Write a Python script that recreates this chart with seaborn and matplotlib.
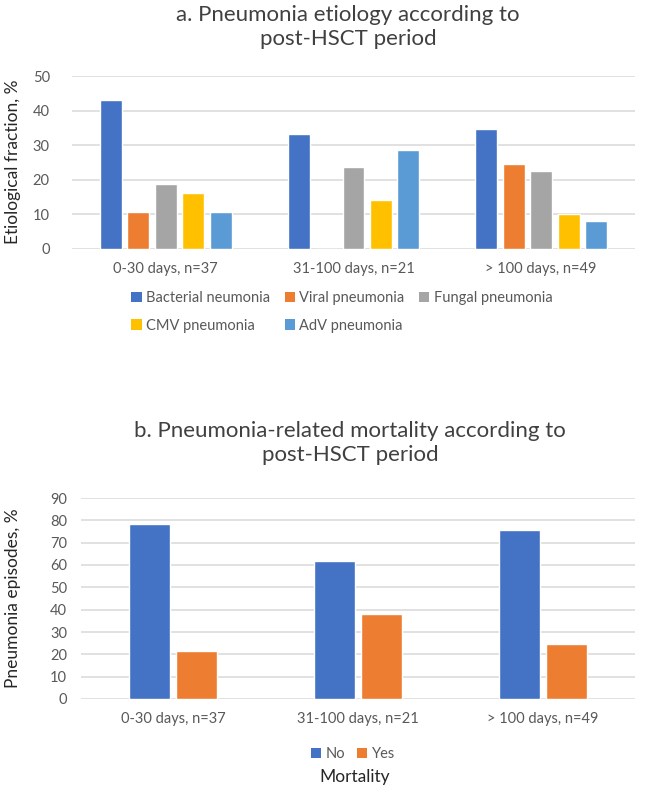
import matplotlib
matplotlib.use("Agg")
import matplotlib.pyplot as plt
import seaborn as sns
import pandas as pd
from matplotlib.patches import Patch

# ---- data ----
periods = ["0-30 days, n=37", "31-100 days, n=21", "> 100 days, n=49"]
etiologies = ["Bacterial neumonia", "Viral pneumonia", "Fungal pneumonia",
              "CMV pneumonia", "AdV pneumonia"]
bacterial = [43.2, 33.3, 34.7]
viral = [10.8, 0.0, 24.5]
fungal = [18.9, 23.8, 22.4]
cmv = [16.2, 14.3, 10.2]
adv = [10.8, 28.6, 8.2]

mortality_levels = ["No", "Yes"]
mort_no = [78.4, 61.9, 75.5]
mort_yes = [21.6, 38.1, 24.5]

colors_a = ["#4472C4", "#ED7D31", "#A5A5A5", "#FFC000", "#5B9BD5"]
colors_b = ["#4472C4", "#ED7D31"]

sns.set_theme(style="white")
plt.rcParams["font.family"] = ["Lato", "DejaVu Sans"]

df_a = pd.DataFrame({
    "period": periods * 5,
    "etiology": sum([[e] * 3 for e in etiologies], []),
    "value": bacterial + viral + fungal + cmv + adv,
})
df_b = pd.DataFrame({
    "period": periods * 2,
    "mortality": ["No"] * 3 + ["Yes"] * 3,
    "value": mort_no + mort_yes,
})

W, H = 650, 792
fig = plt.figure(figsize=(6.5, 7.92), dpi=100)

tick_col = "#595959"
grid_col = "#D9D9D9"

def style_axis(ax, ymax, step, ypad):
    ax.set_ylim(0, ymax)
    ax.set_yticks(range(0, ymax + 1, step))
    ax.yaxis.grid(True, color=grid_col, linewidth=1.1)
    ax.set_axisbelow(True)
    for s in ax.spines.values():
        s.set_visible(False)
    ax.tick_params(axis="both", length=0, labelsize=10.5, colors=tick_col)
    ax.tick_params(axis="x", pad=9)
    ax.tick_params(axis="y", pad=ypad)
    ax.set_xlabel("")
    ax.set_ylabel("")
    ax.set_xlim(-0.5, 2.5)

# ---- chart a ----
ax1 = fig.add_axes([72 / W, 1 - 249 / H, 563 / W, 173 / H])
sns.barplot(data=df_a, x="period", y="value", hue="etiology", hue_order=etiologies,
            order=periods, palette=colors_a, width=0.73, gap=0.2, ax=ax1,
            legend=False, saturation=1)
style_axis(ax1, 50, 10, 16)

fig.text(348 / W, 1 - 27 / H, "a. Pneumonia etiology according to\npost-HSCT period",
         ha="center", va="center", fontsize=16, color="#404040", linespacing=1.2)
fig.text(13 / W, 1 - 162 / H, "Etiological fraction, %", rotation=90,
         ha="center", va="center", fontsize=12.5, color="#262626")

handles_a = [Patch(facecolor=c, edgecolor="none", label=l) for c, l in zip(colors_a, etiologies)]
order = [0, 3, 1, 4, 2]
fig.legend([handles_a[i] for i in order], [etiologies[i] for i in order],
           loc="center", bbox_to_anchor=(342 / W, 1 - 312 / H), ncol=3, frameon=False,
           fontsize=10.5, handlelength=0.7, handleheight=0.7, handletextpad=0.3,
           columnspacing=1.0, labelspacing=0.9, labelcolor=tick_col)

# ---- chart b ----
ax2 = fig.add_axes([81 / W, 1 - 699 / H, 554 / W, 201 / H])
sns.barplot(data=df_b, x="period", y="value", hue="mortality", hue_order=mortality_levels,
            order=periods, palette=colors_b, width=0.51, gap=0.13, ax=ax2,
            legend=False, saturation=1)
style_axis(ax2, 90, 10, 10)

fig.text(350 / W, 1 - 443 / H,
         "b. Pneumonia-related mortality according to\npost-HSCT period",
         ha="center", va="center", fontsize=16, color="#404040", linespacing=1.2)
fig.text(13 / W, 1 - 598 / H, "Pneumonia episodes, %", rotation=90,
         ha="center", va="center", fontsize=12.5, color="#262626")

handles_b = [Patch(facecolor=c, edgecolor="none", label=l) for c, l in zip(colors_b, mortality_levels)]
fig.legend(handles_b, mortality_levels, loc="center", bbox_to_anchor=(353 / W, 1 - 754 / H),
           ncol=2, frameon=False, fontsize=10.5, handlelength=0.7, handleheight=0.7,
           handletextpad=0.3, columnspacing=0.8, labelcolor=tick_col)
fig.text(355 / W, 1 - 777 / H, "Mortality", ha="center", va="center",
         fontsize=12.5, color="#262626")

fig.savefig("out.png", dpi=100)
